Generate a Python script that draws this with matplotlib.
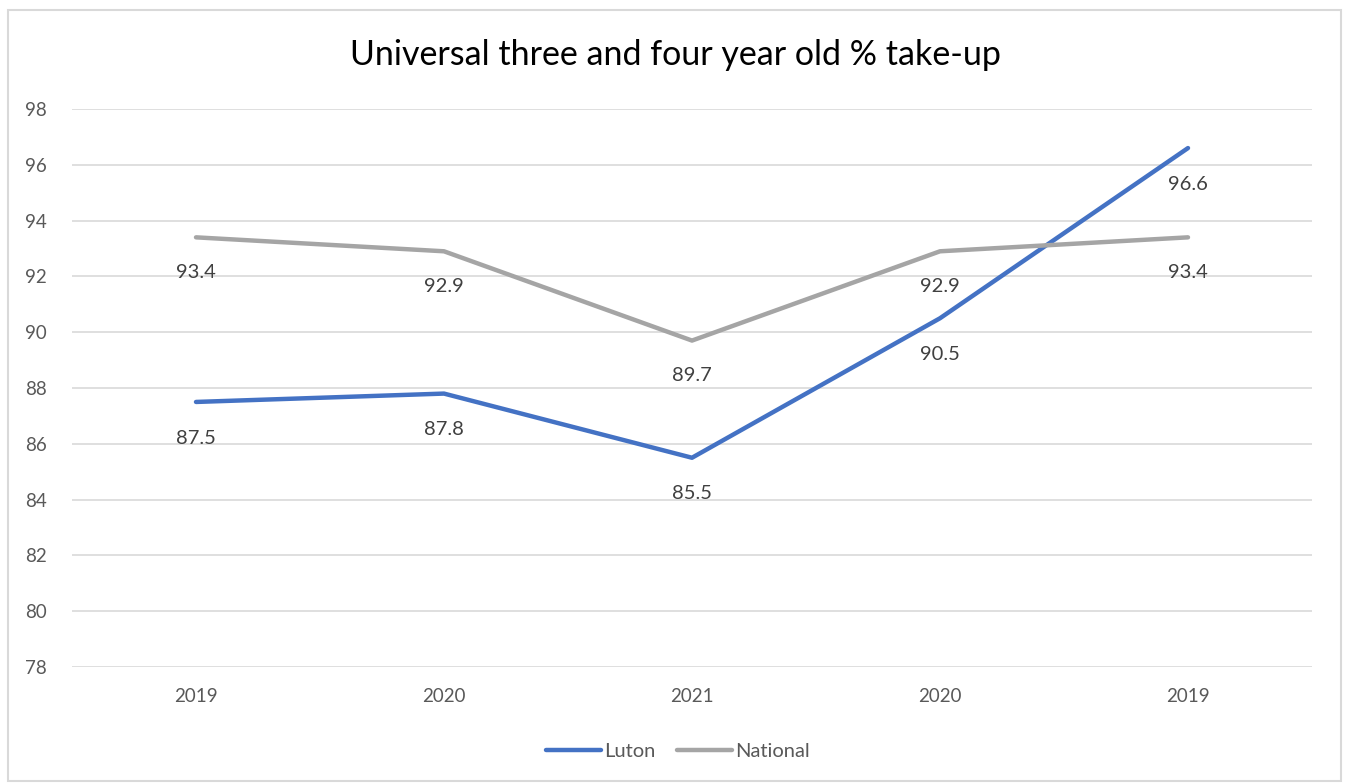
import matplotlib.pyplot as plt
from matplotlib.patches import Rectangle

plt.rcParams['font.family'] = ['Lato', 'DejaVu Sans']

# Chart data
years = ["2019", "2020", "2021", "2020", "2019"]
luton = [87.5, 87.8, 85.5, 90.5, 96.6]
national = [93.4, 92.9, 89.7, 92.9, 93.4]

blue = "#4472C4"
grey = "#A5A5A5"
text_col = "#595959"

fig = plt.figure(figsize=(13.46, 7.83), dpi=100)
ax = fig.add_axes([72 / 1346, 1 - 667 / 783, 1240 / 1346, 558 / 783])

# border round the whole chart
fig.patches.append(Rectangle((8 / 1346, 2 / 783), 1333 / 1346, 771 / 783,
                             transform=fig.transFigure, fill=False,
                             edgecolor="#D9D9D9", linewidth=1.5))

x = [i + 0.5 for i in range(len(years))]
ax.plot(x, luton, color=blue, linewidth=3.2, solid_capstyle="round", label="Luton", zorder=3)
ax.plot(x, national, color=grey, linewidth=3.2, solid_capstyle="round", label="National", zorder=3)

# data labels sit below each point
for xi, v in zip(x, luton):
    ax.annotate(f"{v:.1f}", (xi, v), xytext=(0, -26), textcoords="offset points",
                ha="center", va="center", fontsize=14.5, color="#404040")
for xi, v in zip(x, national):
    ax.annotate(f"{v:.1f}", (xi, v), xytext=(0, -25), textcoords="offset points",
                ha="center", va="center", fontsize=14.5, color="#404040")

ax.set_xlim(0, 5)
ax.set_ylim(78, 98)
ax.set_yticks(range(78, 99, 2))
ax.set_xticks(x)
ax.set_xticklabels(years)
ax.grid(axis="y", color="#D9D9D9", linewidth=1.2)
ax.set_axisbelow(True)
for s in ax.spines.values():
    s.set_visible(False)
ax.tick_params(length=0, labelsize=13.5, labelcolor=text_col)
ax.tick_params(axis="y", pad=18)
ax.tick_params(axis="x", pad=15)

fig.text(675 / 1346, 1 - 55 / 783, "Universal three and four year old % take-up",
         ha="center", va="center", fontsize=24.5, color="#000000")

fig.legend(loc="center", bbox_to_anchor=(678 / 1346, 1 - 751 / 783), ncol=2,
           frameon=False, fontsize=14.5, handlelength=2.7, columnspacing=1.1,
           handletextpad=0.15, labelcolor=text_col)

fig.savefig("out.png", dpi=100)
